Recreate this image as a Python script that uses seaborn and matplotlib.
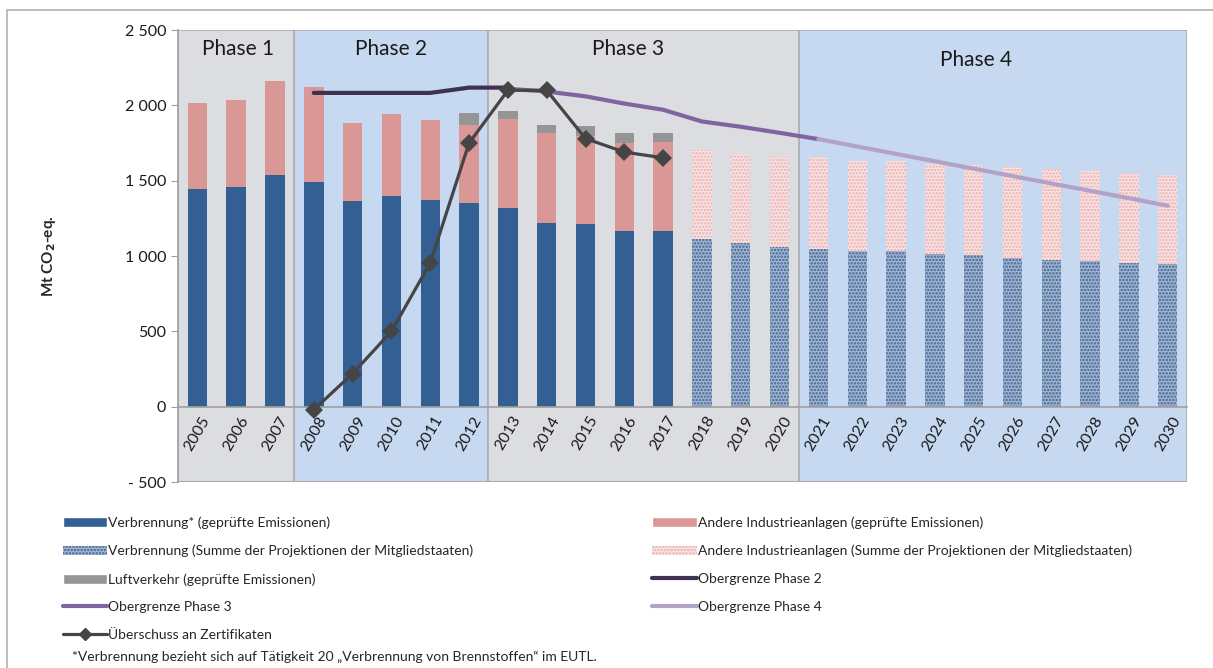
import numpy as np
import pandas as pd
import matplotlib
matplotlib.use("Agg")
import matplotlib.pyplot as plt
import seaborn as sns
from matplotlib.patches import Patch, Rectangle
from matplotlib.lines import Line2D
from matplotlib.ticker import FuncFormatter

sns.set_style("white")
plt.rcParams['font.family'] = ['Lato', 'DejaVu Sans']
plt.rcParams['hatch.linewidth'] = 1.2

# data (Mt CO2-eq.)
years = [str(y) for y in range(2005, 2031)]
meas_years = [str(y) for y in range(2005, 2018)]
proj_years = [str(y) for y in range(2018, 2031)]

verbrennung = [1445, 1455, 1540, 1493, 1365, 1400, 1370, 1355, 1320, 1220, 1210, 1165, 1165]
andere = [572, 580, 625, 627, 515, 540, 535, 515, 590, 595, 590, 585, 590]
luftverkehr = [0, 0, 0, 0, 0, 0, 0, 80, 50, 55, 60, 65, 65]

verbrennung_proj = [1115, 1085, 1060, 1050, 1035, 1035, 1015, 1005, 990, 975, 965, 955, 945]
andere_proj = [590, 595, 600, 605, 595, 595, 595, 600, 600, 600, 600, 595, 595]

og2_years = ['2008', '2009', '2010', '2011', '2012', '2013']
og2 = [2083, 2083, 2083, 2083, 2118, 2118]
og3_years = ['2013', '2014', '2015', '2016', '2017', '2018', '2019', '2020', '2021']
og3 = [2110, 2092, 2060, 2012, 1971, 1893, 1858, 1818, 1776]
og4_years = [str(y) for y in range(2021, 2031)]
og4 = [1776, 1727, 1678, 1629, 1580, 1531, 1482, 1433, 1384, 1334]
ueb_years = [str(y) for y in range(2008, 2018)]
ueberschuss = [-20, 220, 500, 955, 1750, 2100, 2100, 1780, 1690, 1652]

phases = ['Phase 1', 'Phase 2', 'Phase 3', 'Phase 4']
phase_spans = [(-0.5, 2.5), (2.5, 7.5), (7.5, 15.5), (15.5, 25.5)]
phase_label_x = [1.05, 5.0, 11.1, 20.05]
phase_label_y = [2375, 2375, 2375, 2300]

c_blue = '#335f92'
c_red = '#d99795'
c_grey = '#959595'
c_bg_grey = '#dcdde0'
c_bg_blue = '#c6d9f0'

meas = pd.DataFrame({'year': meas_years, 'v': verbrennung, 'a': andere, 'l': luftverkehr})
meas['va'] = meas['v'] + meas['a']
meas['val'] = meas['va'] + meas['l']
proj = pd.DataFrame({'year': proj_years, 'v': verbrennung_proj, 'a': andere_proj})
proj['va'] = proj['v'] + proj['a']

fig = plt.figure(figsize=(12.13, 6.68), dpi=100)
ax = fig.add_axes([0.1467, 0.2784, 0.832, 0.6766])

# phase background
for (x0, x1), name, lx, ly, i in zip(phase_spans, phases, phase_label_x, phase_label_y, range(4)):
    ax.axvspan(x0, x1, color=c_bg_grey if i % 2 == 0 else c_bg_blue, zorder=0, lw=0)
    ax.axvline(x1, color='#a9abae', lw=1.2, zorder=0.5)
    ax.text(lx, ly, name, ha='center', va='center', fontsize=15, color='#1a1a1a', zorder=5)
ax.axvline(-0.5, color='#a9abae', lw=1.2, zorder=0.5)

bw = 0.5
bar_kw = dict(order=years, width=bw, saturation=1, ax=ax, zorder=2, linewidth=0, edgecolor='none')
sns.barplot(data=meas, x='year', y='val', color=c_grey, **bar_kw)
sns.barplot(data=meas, x='year', y='va', color=c_red, **bar_kw)
sns.barplot(data=meas, x='year', y='v', color=c_blue, **bar_kw)
n0 = len(ax.patches)
sns.barplot(data=proj, x='year', y='va', color='#fae3e3', **bar_kw)
for p in ax.patches[n0:]:
    p.set_hatch('.....')
    p.set_edgecolor('#eab0b0')
    p.set_linewidth(0)
n1 = len(ax.patches)
sns.barplot(data=proj, x='year', y='v', color='#a3b6d1', **bar_kw)
for p in ax.patches[n1:]:
    p.set_hatch('.....')
    p.set_edgecolor('#3d6394')
    p.set_linewidth(0)

pos = {y: i for i, y in enumerate(years)}
lines = pd.concat([
    pd.DataFrame({'x': [pos[y] for y in og2_years], 'y': og2, 's': 'og2'}),
    pd.DataFrame({'x': [pos[y] for y in og3_years], 'y': og3, 's': 'og3'}),
    pd.DataFrame({'x': [pos[y] for y in og4_years], 'y': og4, 's': 'og4'}),
])
sns.lineplot(data=lines, x='x', y='y', hue='s', palette={'og2': '#3f3151', 'og3': '#8064a2', 'og4': '#b3a2c7'},
             lw=3, legend=False, ax=ax, zorder=3, solid_capstyle='round')
sns.lineplot(x=[pos[y] for y in ueb_years], y=ueberschuss, color='#454545', lw=2.3,
             marker='D', markersize=9, markeredgewidth=0, ax=ax, zorder=4)

ax.set_xlim(-0.5, 25.5)
ax.set_ylim(-500, 2500)
ax.set_yticks(range(-500, 2501, 500))
ax.yaxis.set_major_formatter(FuncFormatter(
    lambda v, _: '- ' + format(int(abs(v)), ',').replace(',', ' ') if v < 0 else format(int(v), ',').replace(',', ' ')))
ax.tick_params(axis='y', labelsize=11.5, length=5, color='#a0a0a0', direction='out', left=True, labelcolor='#1a1a1a')
ax.spines['bottom'].set_position(('data', 0))
ax.set_xticks(range(len(years)))
ax.set_xticklabels(years, rotation=60, fontsize=11.5, color='#1a1a1a')
ax.tick_params(axis='x', length=0, pad=5)
for lab in ax.get_xticklabels():
    lab.set_ha('center')
for s in ['left', 'bottom']:
    ax.spines[s].set_color('#a0a0a0')
    ax.spines[s].set_linewidth(1.2)
for s in ['top', 'right']:
    ax.spines[s].set_visible(False)
ax.axhline(-500, color='#a9abae', lw=1.5, zorder=1)
ax.axhline(2500, color='#a9abae', lw=1.2, zorder=1)
ax.set_xlabel('')
ax.set_ylabel('Mt CO$_\\mathbf{2}$-eq.', fontsize=11, fontweight='bold', labelpad=48)

# legends
h_col1 = [
    Patch(facecolor=c_blue, label='Verbrennung* (geprüfte Emissionen)'),
    Patch(facecolor='#a3b6d1', edgecolor='#3d6394', hatch='.....', lw=0,
          label='Verbrennung (Summe der Projektionen der Mitgliedstaaten)'),
    Patch(facecolor=c_grey, label='Luftverkehr (geprüfte Emissionen)'),
    Line2D([], [], color='#8064a2', lw=3, label='Obergrenze Phase 3'),
    Line2D([], [], color='#454545', lw=2.3, marker='D', markersize=6, label='Überschuss an Zertifikaten'),
]
h_col2 = [
    Patch(facecolor=c_red, label='Andere Industrieanlagen (geprüfte Emissionen)'),
    Patch(facecolor='#fae3e3', edgecolor='#eab0b0', hatch='.....', lw=0,
          label='Andere Industrieanlagen (Summe der Projektionen der Mitgliedstaaten)'),
    Line2D([], [], color='#3f3151', lw=3, label='Obergrenze Phase 2'),
    Line2D([], [], color='#b3a2c7', lw=3, label='Obergrenze Phase 4'),
]
kw = dict(frameon=False, fontsize=10, handlelength=3.2, handleheight=0.7, handletextpad=0.1,
          labelspacing=1.13, loc='upper left', borderaxespad=0)
fig.legend(handles=h_col1, bbox_to_anchor=(0.047, 0.235), **kw)
fig.legend(handles=h_col2, bbox_to_anchor=(0.533, 0.235), **kw)

fig.text(0.059, 1 - 657 / 668, '*Verbrennung bezieht sich auf Tätigkeit 20 \u201eVerbrennung von Brennstoffen\u201c im EUTL.',
         fontsize=10, va='center', ha='left')

fig.patches.append(Rectangle((0.006, -0.02), 1.1, 1.005, transform=fig.transFigure,
                             fill=False, edgecolor='#b0b0b0', lw=1.2))

fig.savefig('out.png', dpi=100)
